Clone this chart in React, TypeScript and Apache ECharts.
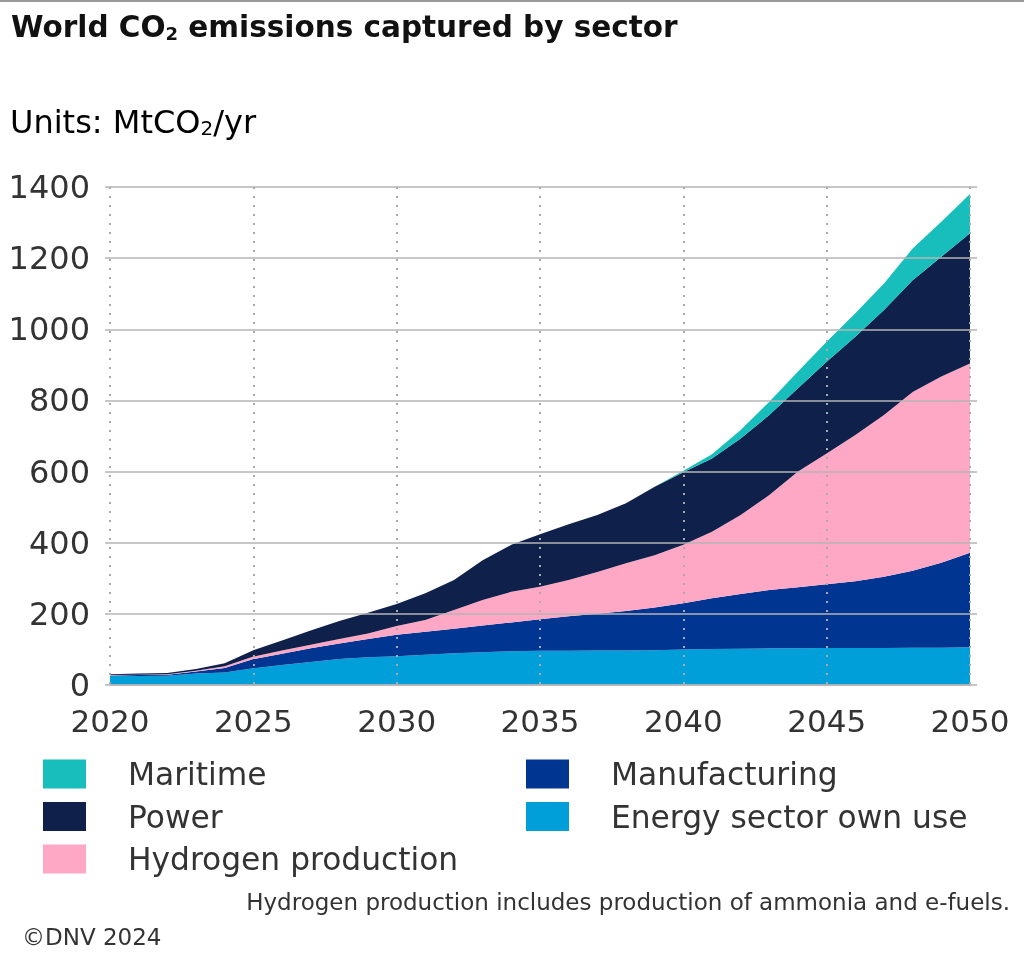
import React, { useEffect, useRef } from "react";
import * as echarts from "echarts";

const years = ["2020","2021","2022","2023","2024","2025","2026","2027","2028","2029","2030","2031","2032","2033","2034","2035","2036","2037","2038","2039","2040","2041","2042","2043","2044","2045","2046","2047","2048","2049","2050"];
const energyOwnUse = [25,25,26,32,35,47,56,65,73,78,81,85,89,92,95,96,96,97,97,98,100,101,102,103,103,104,104,104,105,105,106];
const manufacturing = [2,3,3,6,13,26,32,38,44,51,60,65,69,75,81,89,97,103,111,120,130,143,154,164,172,179,188,200,216,239,266];
const hydrogen = [1,1,1,2,5,7,9,10,12,16,25,33,53,72,86,91,102,118,134,147,164,187,222,267,325,368,411,455,503,523,532];
const power = [2,3,4,5,8,18,28,40,51,58,62,75,84,112,132,148,157,160,169,192,204,206,215,225,234,258,276,295,314,337,366];
const maritime = [0,0,0,0,0,0,0,0,0,0,0,0,0,0,0,0,0,0,0,0,4,12,24,37,47,56,66,75,89,98,110];

const seriesDefs = [
  { name: "Energy sector own use", data: energyOwnUse, color: "#009FDA" },
  { name: "Manufacturing", data: manufacturing, color: "#003591" },
  { name: "Hydrogen production", data: hydrogen, color: "#FFA8C5" },
  { name: "Power", data: power, color: "#0F204B" },
  { name: "Maritime", data: maritime, color: "#17BEBB" },
];

const legendCol1 = ["Maritime", "Power", "Hydrogen production"];
const legendCol2 = ["Manufacturing", "Energy sector own use"];

const FONT = "DejaVu Sans";
const GRID_COLOR = "#b4b4b4";

function colorOf(name: string) {
  const s = seriesDefs.find((d) => d.name === name);
  return s ? s.color : "#000";
}

function legendItems(names: string[], x: number, y0: number) {
  const out: any[] = [];
  names.forEach((n, i) => {
    const cy = y0 + i * 42.5;
    out.push({ type: "rect", shape: { x, y: cy - 14.5, width: 43, height: 29 }, style: { fill: colorOf(n) } });
    out.push({
      type: "text",
      x: x + 85,
      y: cy,
      style: { text: n, fontFamily: FONT, fontSize: 31.3, fill: "#333", verticalAlign: "middle" },
    });
  });
  return out;
}

export default function App() {
  const ref = useRef<HTMLDivElement>(null);
  useEffect(() => {
    if (!ref.current) return;
    const chart = echarts.init(ref.current, null, { renderer: "svg" });
    chart.setOption({
      animation: false,
      textStyle: { fontFamily: FONT },
      title: {
        left: 6,
        top: 1,
        text: "{a|World CO}{s|2}{a| emissions captured by sector}",
        textStyle: {
          rich: {
            a: { fontFamily: FONT, fontWeight: "bold", fontSize: 29.5, color: "#111", lineHeight: 36, verticalAlign: "bottom" },
            s: { fontFamily: FONT, fontWeight: "bold", fontSize: 18, color: "#111", lineHeight: 16, verticalAlign: "bottom" },
          },
        },
      },
      graphic: [
        { type: "line", shape: { x1: 0, y1: 1, x2: 1024, y2: 1 }, style: { stroke: "#999", lineWidth: 2 } },
        {
          type: "text",
          left: 10,
          top: 106,
          style: {
            text: "{l|Units: }{m|MtCO}{s|2}{m|/yr}",
            rich: {
              l: { fontFamily: FONT, fontSize: 32, color: "#333", lineHeight: 38, verticalAlign: "bottom" },
              m: { fontFamily: FONT, fontSize: 32, color: "#111", lineHeight: 38, verticalAlign: "bottom" },
              s: { fontFamily: FONT, fontSize: 20, color: "#111", lineHeight: 18, verticalAlign: "bottom" },
            },
          },
        },
        {
          type: "text",
          right: 14,
          top: 890,
          style: { text: "Hydrogen production includes production of ammonia and e-fuels.", fontFamily: FONT, fontSize: 23, fill: "#333" },
        },
        {
          type: "text",
          left: 22,
          top: 925,
          style: { text: "©DNV 2024", fontFamily: FONT, fontSize: 23, fill: "#333" },
        },
        ...legendItems(legendCol1, 43, 774),
        ...legendItems(legendCol2, 526, 774),
      ],
      grid: { left: 110, right: 54, top: 187, bottom: 284, containLabel: false },
      xAxis: {
        type: "category",
        data: years,
        boundaryGap: false,
        z: 5,
        axisLine: { show: true, lineStyle: { color: GRID_COLOR, width: 1.5 } },
        axisTick: { show: false },
        axisLabel: { fontFamily: FONT, fontSize: 31, color: "#333", margin: 20, interval: 4 },
        splitLine: { show: true, interval: 4, lineStyle: { color: "#aaa", width: 2, type: [2, 7] } },
      },
      yAxis: [
        {
          type: "value",
          min: 0,
          max: 1400,
          interval: 200,
          z: 5,
          axisLine: { show: false },
          axisTick: { show: true, length: 5, lineStyle: { color: GRID_COLOR, width: 1.5 } },
          axisLabel: { fontFamily: FONT, fontSize: 32, color: "#333", margin: 20, formatter: (v: number) => String(v) },
          splitLine: { show: true, lineStyle: { color: GRID_COLOR, width: 1.5 } },
        },
        {
          type: "value",
          position: "right",
          min: 0,
          max: 1400,
          interval: 200,
          z: 5,
          axisLine: { show: false },
          axisTick: { show: true, length: 7, lineStyle: { color: GRID_COLOR, width: 1.5 } },
          axisLabel: { show: false },
          splitLine: { show: false },
        },
      ],
      series: seriesDefs.map((s) => ({
        name: s.name,
        type: "line",
        stack: "total",
        symbol: "none",
        yAxisIndex: 0,
        lineStyle: { width: 0 },
        itemStyle: { color: s.color },
        areaStyle: { color: s.color, opacity: 1 },
        data: s.data,
        z: 2,
      })),
    });
    return () => chart.dispose();
  }, []);
  return <div ref={ref} style={{ position: "fixed", left: 0, top: 0, width: 1024, height: 969 }} />;
}
